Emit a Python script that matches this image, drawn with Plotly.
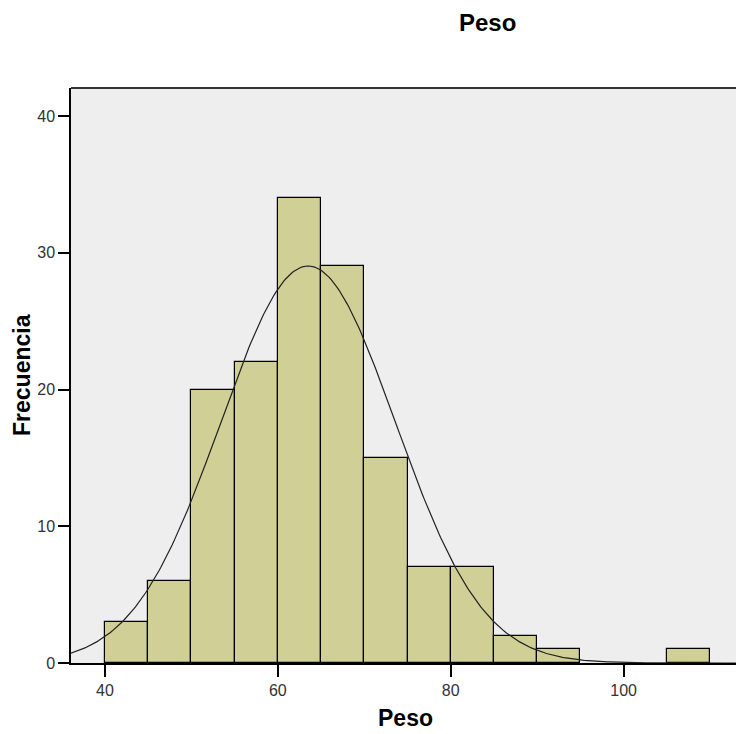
import numpy as np
import plotly.graph_objects as go

# Histogram of weights (5 kg bins) with fitted normal curve
bin_starts = [40, 45, 50, 55, 60, 65, 70, 75, 80, 85, 90, 95, 100, 105]
frequencies = [3, 6, 20, 22, 34, 29, 15, 7, 7, 2, 1, 0, 0, 1]
bin_width = 5
mean_peso = 63.5
sd_peso = 10.1
x_ticks = [40, 60, 80, 100]
y_ticks = [0, 10, 20, 30, 40]

n_total = sum(frequencies)
centers = [b + bin_width / 2 for b in bin_starts]
# empty bins get no outline so they don't thicken the baseline
outline_widths = [1.2 if f > 0 else 0 for f in frequencies]

xs = np.linspace(36, 113, 400)
curve = n_total * bin_width / (sd_peso * np.sqrt(2 * np.pi)) * np.exp(
    -0.5 * ((xs - mean_peso) / sd_peso) ** 2
)

fig = go.Figure()
fig.add_trace(go.Bar(
    x=centers, y=frequencies, width=bin_width,
    marker=dict(color="#CFCF96", line=dict(color="#000000", width=outline_widths)),
    hoverinfo="x+y", showlegend=False,
))
fig.add_trace(go.Scatter(
    x=xs, y=curve, mode="lines",
    line=dict(color="#222222", width=1.2),
    showlegend=False, hoverinfo="skip",
))

font_family = "Liberation Sans, Arial, sans-serif"

fig.update_layout(
    width=736, height=734,
    margin=dict(l=71, r=0, t=88, b=71),
    paper_bgcolor="white",
    plot_bgcolor="#EEEEEE",
    bargap=0,
    font=dict(family=font_family, color="#333333", size=16),
    xaxis=dict(
        range=[36.07, 113], tickvals=x_ticks, showgrid=False, zeroline=False,
        showline=True, linecolor="#000000", linewidth=1.5,
        ticks="outside", ticklen=12, tickcolor="#000000", tickwidth=1.5,
        tickfont=dict(size=16, color="#333333"),
    ),
    yaxis=dict(
        range=[0, 42.05], tickvals=y_ticks, showgrid=False, zeroline=False,
        showline=True, linecolor="#000000", linewidth=1.5,
        ticks="outside", ticklen=11, tickcolor="#000000", tickwidth=1.5,
        tickfont=dict(size=16, color="#333333"),
    ),
    shapes=[dict(
        type="line", xref="paper", yref="paper", x0=0, x1=1, y0=1, y1=1,
        line=dict(color="#333333", width=2),
    )],
    annotations=[
        dict(text="<b>Peso</b>", xref="paper", yref="paper",
             x=(487.5 - 71) / 665, y=1 + (88 - 23) / 575, showarrow=False,
             xanchor="center", yanchor="middle",
             font=dict(size=24, color="#000000", family=font_family)),
        dict(text="<b>Peso</b>", xref="paper", yref="paper",
             x=(405 - 71) / 665, y=-(718 - 663) / 575, showarrow=False,
             xanchor="center", yanchor="middle",
             font=dict(size=23, color="#000000", family=font_family)),
        dict(text="<b>Frecuencia</b>", xref="paper", yref="paper",
             x=-(71 - 22) / 665, y=(663 - 375) / 575, showarrow=False,
             textangle=-90, xanchor="center", yanchor="middle",
             font=dict(size=23, color="#000000", family=font_family)),
    ],
)

fig.write_html("out.html")
